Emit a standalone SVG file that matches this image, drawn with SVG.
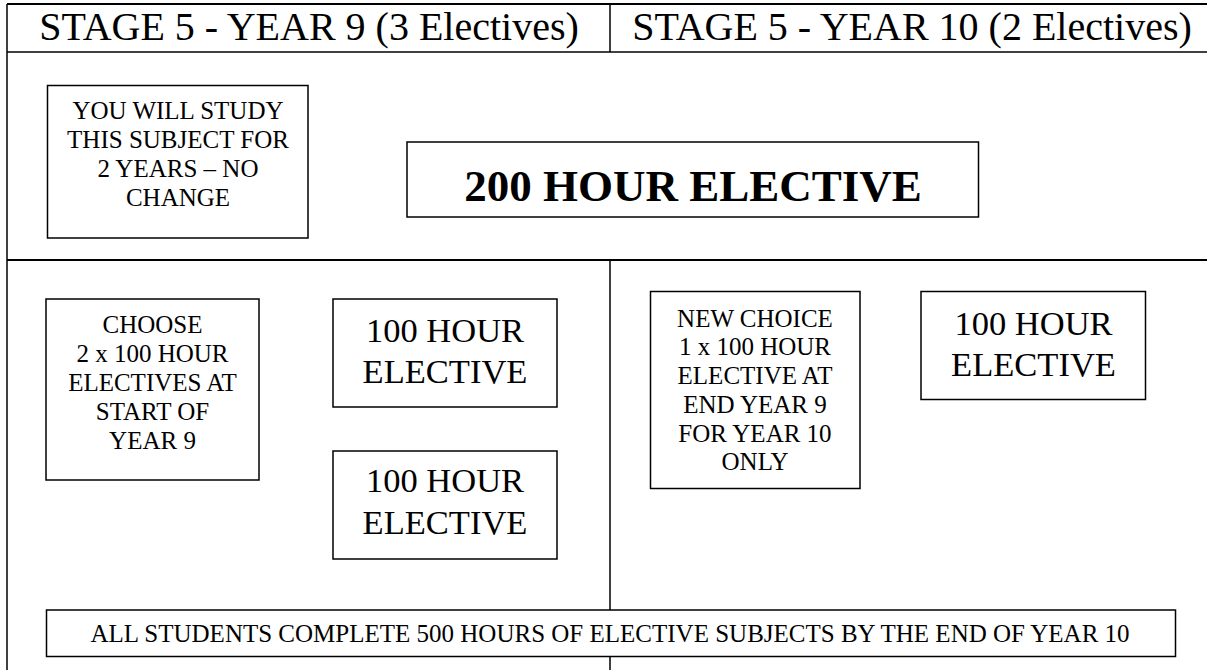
<svg xmlns="http://www.w3.org/2000/svg" width="1207" height="670" viewBox="0 0 1207 670">
<style>
.frame{stroke:#000;stroke-width:1.5;fill:none}
.thick{stroke:#000;stroke-width:2.2;fill:none}
.box{fill:#fff;stroke:#000;stroke-width:1.5}
text{font-family:"Liberation Serif","Times New Roman",serif;fill:#000;text-anchor:middle}
.hd{font-size:40px}
.sm{font-size:25px}
.md{font-size:34.5px}
.big{font-size:45px;font-weight:bold}
.ft{font-size:25px}
</style>
<rect width="1207" height="670" fill="#fff"/>
<g id="connectors">
<line class="thick" x1="7" y1="4" x2="1207" y2="4"/>
<line class="frame" x1="7" y1="4" x2="7" y2="670"/>
<line class="frame" x1="610" y1="4" x2="610" y2="52"/>
<line class="frame" x1="7" y1="52" x2="1207" y2="52"/>
<line class="thick" x1="7" y1="260" x2="1207" y2="260"/>
<line class="frame" x1="610" y1="260" x2="610" y2="670"/>
</g>
<g id="header-year9"><text class="hd" x="309" y="40">STAGE 5 - YEAR 9 (3 Electives)</text></g>
<g id="header-year10"><text class="hd" x="912" y="40">STAGE 5 - YEAR 10 (2 Electives)</text></g>
<g id="note-two-years">
<rect class="box" x="47.5" y="85.5" width="260.5" height="152.5"/>
<text class="sm" x="178" y="119">YOU WILL STUDY</text>
<text class="sm" x="178" y="148">THIS SUBJECT FOR</text>
<text class="sm" x="178" y="177">2 YEARS – NO</text>
<text class="sm" x="178" y="206">CHANGE</text>
</g>
<g id="elective-200">
<rect class="box" x="407" y="142" width="571.5" height="75"/>
<text class="big" x="693" y="201">200 HOUR ELECTIVE</text>
</g>
<g id="choose-note">
<rect class="box" x="46" y="299" width="213" height="181"/>
<text class="sm" x="152.5" y="333">CHOOSE</text>
<text class="sm" x="152.5" y="362">2 x 100 HOUR</text>
<text class="sm" x="152.5" y="391">ELECTIVES AT</text>
<text class="sm" x="152.5" y="420">START OF</text>
<text class="sm" x="152.5" y="449">YEAR 9</text>
</g>
<g id="elective-100-a">
<rect class="box" x="333" y="299" width="224" height="108"/>
<text class="md" x="445" y="341.5">100 HOUR</text>
<text class="md" x="445" y="383">ELECTIVE</text>
</g>
<g id="elective-100-b">
<rect class="box" x="333" y="451" width="224" height="108"/>
<text class="md" x="445" y="492">100 HOUR</text>
<text class="md" x="445" y="533.5">ELECTIVE</text>
</g>
<g id="new-choice-note">
<rect class="box" x="650.5" y="291.5" width="209.5" height="197"/>
<text class="sm" x="755" y="326.5">NEW CHOICE</text>
<text class="sm" x="755" y="355">1 x 100 HOUR</text>
<text class="sm" x="755" y="384">ELECTIVE AT</text>
<text class="sm" x="755" y="412.5">END YEAR 9</text>
<text class="sm" x="755" y="441.5">FOR YEAR 10</text>
<text class="sm" x="755" y="470">ONLY</text>
</g>
<g id="elective-100-c">
<rect class="box" x="921" y="291.5" width="224.5" height="108"/>
<text class="md" x="1033.5" y="335">100 HOUR</text>
<text class="md" x="1033.5" y="375.5">ELECTIVE</text>
</g>
<g id="total-note">
<rect class="box" x="46.5" y="610" width="1129" height="46.5"/>
<text class="ft" x="610" y="642">ALL STUDENTS COMPLETE 500 HOURS OF ELECTIVE SUBJECTS BY THE END OF YEAR 10</text>
</g>
</svg>
